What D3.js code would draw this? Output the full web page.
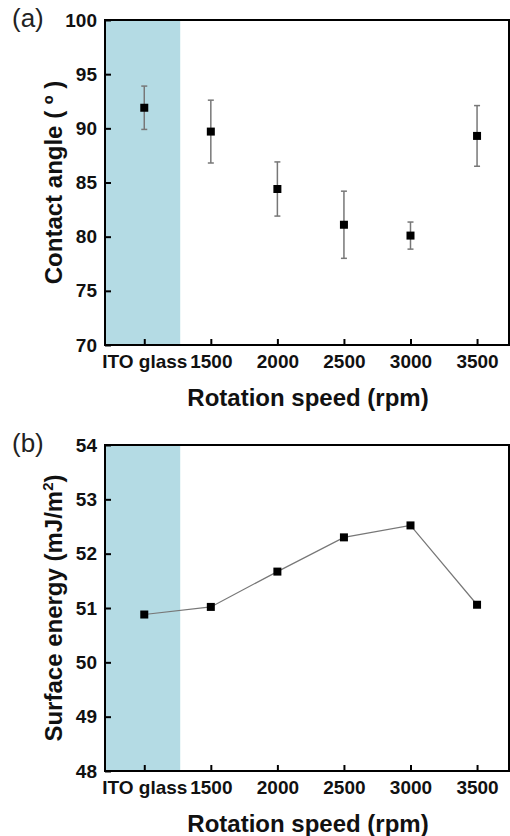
<!DOCTYPE html>
<html><head><meta charset="utf-8">
<script src="https://cdn.jsdelivr.net/npm/d3@7"></script>
<style>
html,body{margin:0;padding:0;background:#fff;}
svg{display:block;font-family:"Liberation Sans",Arial,sans-serif;}
</style></head>
<body>
<svg id="c" width="510" height="836"></svg>
<script>
const categories = ["ITO glass","1500","2000","2500","3000","3500"];
const contactAngle = [91.9, 89.7, 84.4, 81.1, 80.1, 89.3];
const contactErr   = [2.0, 2.9, 2.5, 3.1, 1.25, 2.8];
const surfaceEnergy = [50.88, 51.02, 51.67, 52.30, 52.52, 51.06];
const yTicksA = [70,75,80,85,90,95,100];
const yTicksB = [48,49,50,51,52,53,54];
const shadeEnd = 0.54; // shaded region (ITO glass) ends here, in category index units

const svg = d3.select("#c");
const L = 105, R = 509;
const x = d3.scaleLinear().domain([-0.59, 5.48]).range([L, R]);

function panel(top, bottom, yDomain, yTicks, label, labelY, yTitle, drawFn){
  const y = d3.scaleLinear().domain(yDomain).range([bottom, top]);
  const g = svg.append("g");
  g.append("rect").attr("x", x(x.domain()[0])).attr("y", top)
    .attr("width", x(shadeEnd) - x(x.domain()[0])).attr("height", bottom - top)
    .attr("fill", "#b4dbe4");
  drawFn(g, y);
  const xa = g.append("g").attr("transform", `translate(0,${bottom})`)
    .call(d3.axisBottom(x).tickValues(d3.range(categories.length))
      .tickFormat(i => categories[i]).tickSizeInner(-6).tickSizeOuter(0));
  xa.select(".domain").remove();
  xa.selectAll("line").attr("stroke","#000").attr("stroke-width",2);
  xa.selectAll("text").attr("font-size","19px").attr("font-weight","bold").attr("fill","#111")
    .attr("dy", null).attr("y", 23);
  const ya = g.append("g").attr("transform", `translate(${L},0)`)
    .call(d3.axisLeft(y).tickValues(yTicks).tickFormat(d3.format("d"))
      .tickSizeInner(-6).tickSizeOuter(0).tickPadding(8));
  ya.select(".domain").remove();
  ya.selectAll("line").attr("stroke","#000").attr("stroke-width",2);
  ya.selectAll("text").attr("font-size","19px").attr("font-weight","bold").attr("fill","#111");
  g.append("rect").attr("x", L).attr("y", top).attr("width", R - L).attr("height", bottom - top)
    .attr("fill","none").attr("stroke","#000").attr("stroke-width",2);
  g.append("text").attr("x", (L+R)/2 + 1).attr("y", bottom + 61).attr("text-anchor","middle")
    .attr("font-size","24px").attr("font-weight","bold").attr("fill","#111").text("Rotation speed (rpm)");
  const yt = g.append("text").attr("transform", `translate(62,${(top+bottom)/2}) rotate(-90)`)
    .attr("text-anchor","middle").attr("font-size","24px").attr("font-weight","bold").attr("fill","#111");
  yTitle(yt);
  g.append("text").attr("x", 12).attr("y", labelY).attr("font-size","26px").attr("fill","#222").text(label);
}

panel(20, 345, [70,100], yTicksA, "(a)", 27, t => t.text("Contact angle ( º )"), (g, y) => {
  const eb = g.append("g").attr("stroke","#777").attr("stroke-width",1.5);
  contactAngle.forEach((v,i) => {
    const cx = x(i);
    eb.append("line").attr("x1",cx).attr("x2",cx).attr("y1",y(v-contactErr[i])).attr("y2",y(v+contactErr[i]));
    [v-contactErr[i], v+contactErr[i]].forEach(e =>
      eb.append("line").attr("x1",cx-3).attr("x2",cx+3).attr("y1",y(e)).attr("y2",y(e)));
  });
  g.selectAll(".ma").data(contactAngle).enter().append("rect")
    .attr("x",(d,i)=>x(i)-4).attr("y",d=>y(d)-4).attr("width",8).attr("height",8).attr("fill","#000");
});

panel(445, 771, [48,54], yTicksB, "(b)", 452, t => {
  t.append("tspan").text("Surface energy (mJ/m");
  t.append("tspan").attr("font-size","15px").attr("dy","-9").text("2");
  t.append("tspan").attr("dy","9").text(")");
}, (g, y) => {
  const line = d3.line().x((d,i)=>x(i)).y(d=>y(d));
  g.append("path").datum(surfaceEnergy).attr("d", line).attr("fill","none").attr("stroke","#777").attr("stroke-width",1.2);
  g.selectAll(".mb").data(surfaceEnergy).enter().append("rect")
    .attr("x",(d,i)=>x(i)-4).attr("y",d=>y(d)-4).attr("width",8).attr("height",8).attr("fill","#000");
});
</script>
</body></html>
